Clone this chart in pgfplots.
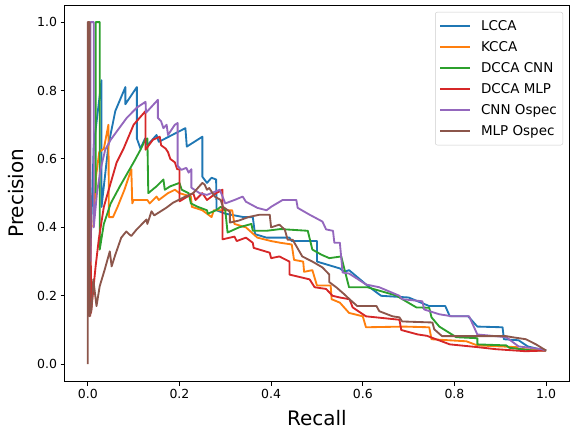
\documentclass[border=0pt]{standalone}
\usepackage{fontspec}
\setmainfont{DejaVu Sans}
\usepackage{pgfplots}
\pgfplotsset{compat=1.18}
\definecolor{c0}{HTML}{1F77B4}
\definecolor{c1}{HTML}{FF7F0E}
\definecolor{c2}{HTML}{2CA02C}
\definecolor{c3}{HTML}{D62728}
\definecolor{c4}{HTML}{9467BD}
\definecolor{c5}{HTML}{8C564B}
\begin{document}
\begin{tikzpicture}
\begin{axis}[
    name=ax,
    scale only axis,
    width=505pt, height=377pt,
    xmin=-0.05, xmax=1.05, ymin=-0.05, ymax=1.05,
    xtick={0,0.2,0.4,0.6,0.8,1.0},
    ytick={0,0.2,0.4,0.6,0.8,1.0},
    tick align=outside, tick pos=left,
    major tick length=4.3pt,
    every tick/.style={black, line width=0.9pt},
    axis line style={line width=0.9pt},
    /pgf/number format/assume math mode=true,
    xticklabel style={/pgf/number format/.cd, fixed, fixed zerofill, precision=1},
    yticklabel style={/pgf/number format/.cd, fixed, fixed zerofill, precision=1},
    tick label style={font=\fontsize{12.5}{15}\selectfont},
    xlabel={Recall}, ylabel={Precision},
    label style={font=\fontsize{20}{24}\selectfont},
    xlabel style={at={(axis description cs:0.5,-0.098)}, anchor=center},
    ylabel style={at={(axis description cs:-0.097,0.5)}, anchor=center, rotate=0},
    legend style={at={(1,1)}, anchor=north east, xshift=-6pt, yshift=-7pt,
        font=\fontsize{13.5}{16}\selectfont, draw=black!20, rounded corners=2pt,
        inner xsep=4pt, inner ysep=6pt, row sep=5.6pt, cells={anchor=west},
        /tikz/every odd column/.append style={column sep=8pt}},
    legend image code/.code={\draw[#1, line width=1.85pt] (0pt,0pt) -- (30pt,0pt);},
    every axis plot/.append style={line width=1.85pt, line join=round},
]
\addplot[c0] coordinates {
(0.005,0.30) (0.013,0.64) (0.030,0.83) (0.030,0.46) (0.045,0.64) (0.060,0.74) (0.082,0.81) (0.082,0.76)
(0.107,0.81) (0.107,0.66) (0.115,0.63) (0.125,0.66) (0.13,0.64) (0.15,0.67) (0.155,0.65) (0.213,0.69)
(0.216,0.636) (0.25,0.665) (0.25,0.548) (0.26,0.53) (0.27,0.545) (0.28,0.54) (0.281,0.45) (0.30,0.44)
(0.34,0.43) (0.36,0.43) (0.365,0.38) (0.39,0.37) (0.44,0.37) (0.445,0.36) (0.50,0.36) (0.50,0.30)
(0.55,0.28) (0.56,0.27) (0.57,0.275) (0.61,0.23) (0.64,0.20) (0.70,0.195) (0.745,0.17) (0.78,0.17)
(0.79,0.14) (0.83,0.14) (0.85,0.11) (0.905,0.108) (0.908,0.073) (0.94,0.07) (0.96,0.052) (0.985,0.044) (1.0,0.04)
};
\addplot[c1] coordinates {
(0.012,0.40) (0.018,0.55) (0.025,0.62) (0.035,0.63) (0.045,0.70) (0.046,0.43) (0.055,0.43) (0.065,0.46)
(0.08,0.51) (0.095,0.57) (0.097,0.47) (0.10,0.48) (0.13,0.48) (0.135,0.47) (0.15,0.49) (0.155,0.48)
(0.175,0.50) (0.19,0.51) (0.20,0.50) (0.225,0.49) (0.227,0.46) (0.25,0.45) (0.27,0.43) (0.275,0.45)
(0.315,0.45) (0.32,0.41) (0.345,0.40) (0.37,0.37) (0.40,0.36) (0.42,0.355) (0.445,0.35) (0.45,0.305)
(0.47,0.30) (0.472,0.27) (0.49,0.275) (0.50,0.23) (0.53,0.23) (0.532,0.19) (0.55,0.18) (0.57,0.15)
(0.60,0.14) (0.607,0.108) (0.69,0.11) (0.745,0.108) (0.75,0.073) (0.826,0.067) (0.85,0.055) (0.935,0.05)
(0.94,0.045) (1.0,0.04)
};
\addplot[c2] coordinates {
(0.017,0.50) (0.017,1.0) (0.026,1.0) (0.026,0.335) (0.035,0.41) (0.05,0.47) (0.07,0.52) (0.10,0.59)
(0.115,0.627) (0.125,0.655) (0.13,0.66) (0.132,0.50) (0.15,0.52) (0.165,0.54) (0.168,0.51) (0.18,0.52)
(0.19,0.525) (0.20,0.53) (0.205,0.51) (0.22,0.50) (0.225,0.47) (0.24,0.46) (0.26,0.45) (0.262,0.44)
(0.28,0.45) (0.29,0.46) (0.30,0.45) (0.305,0.385) (0.33,0.40) (0.357,0.41) (0.36,0.39) (0.39,0.39)
(0.42,0.395) (0.48,0.39) (0.49,0.335) (0.51,0.32) (0.527,0.31) (0.553,0.315) (0.57,0.225) (0.61,0.225)
(0.675,0.2) (0.68,0.195) (0.717,0.166) (0.745,0.165) (0.75,0.137) (0.767,0.11) (0.804,0.079) (0.85,0.076)
(0.85,0.058) (0.913,0.055) (0.92,0.048) (0.97,0.04) (1.0,0.04)
};
\addplot[c3] coordinates {
(0.005,0.14) (0.006,0.50) (0.007,0.15) (0.017,0.285) (0.024,0.365) (0.035,0.46) (0.05,0.53) (0.063,0.59)
(0.078,0.63) (0.10,0.70) (0.126,0.74) (0.126,0.627) (0.142,0.656) (0.157,0.665) (0.16,0.64) (0.17,0.63)
(0.175,0.62) (0.18,0.60) (0.19,0.59) (0.195,0.57) (0.20,0.57) (0.20,0.476) (0.23,0.50) (0.235,0.48)
(0.25,0.50) (0.26,0.48) (0.28,0.50) (0.294,0.51) (0.294,0.365) (0.32,0.373) (0.325,0.36) (0.345,0.37)
(0.36,0.355) (0.362,0.34) (0.397,0.326) (0.40,0.31) (0.418,0.315) (0.44,0.30) (0.44,0.262) (0.484,0.248)
(0.495,0.225) (0.52,0.22) (0.534,0.2) (0.55,0.195) (0.571,0.19) (0.578,0.166) (0.607,0.14) (0.68,0.13)
(0.684,0.10) (0.72,0.087) (0.74,0.083) (0.79,0.058) (0.85,0.05) (0.89,0.044) (0.955,0.038) (1.0,0.04)
};
\addplot[c4] coordinates {
(0.006,0.30) (0.006,1.0) (0.013,1.0) (0.013,0.40) (0.02,0.50) (0.028,0.57) (0.038,0.627) (0.05,0.656)
(0.063,0.68) (0.085,0.72) (0.107,0.75) (0.126,0.767) (0.127,0.735) (0.153,0.773) (0.153,0.72) (0.16,0.71)
(0.165,0.69) (0.172,0.70) (0.175,0.67) (0.19,0.70) (0.196,0.705) (0.196,0.58) (0.204,0.568) (0.215,0.574)
(0.22,0.56) (0.226,0.57) (0.226,0.516) (0.244,0.50) (0.26,0.495) (0.288,0.51) (0.30,0.47) (0.32,0.48)
(0.338,0.49) (0.345,0.475) (0.37,0.457) (0.39,0.45) (0.40,0.46) (0.425,0.48) (0.455,0.48) (0.458,0.457)
(0.484,0.437) (0.512,0.417) (0.52,0.394) (0.535,0.39) (0.538,0.355) (0.55,0.355) (0.556,0.268) (0.57,0.265)
(0.59,0.248) (0.607,0.233) (0.636,0.225) (0.68,0.2) (0.686,0.19) (0.73,0.184) (0.734,0.16) (0.767,0.146)
(0.795,0.14) (0.832,0.14) (0.85,0.087) (0.89,0.082) (0.913,0.079) (0.94,0.052) (0.99,0.044) (1.0,0.04)
};
\addplot[c5] coordinates {
(0.0,0.0) (0.0,1.0) (0.004,1.0) (0.004,0.14) (0.008,0.16) (0.012,0.248) (0.019,0.17) (0.026,0.228)
(0.037,0.277) (0.048,0.33) (0.052,0.286) (0.06,0.32) (0.073,0.37) (0.084,0.388) (0.09,0.38) (0.095,0.375)
(0.106,0.393) (0.128,0.423) (0.13,0.41) (0.139,0.447) (0.145,0.435) (0.171,0.457) (0.186,0.472) (0.208,0.487)
(0.23,0.50) (0.25,0.53) (0.255,0.525) (0.26,0.51) (0.265,0.515) (0.277,0.49) (0.29,0.48) (0.295,0.46)
(0.31,0.446) (0.31,0.414) (0.33,0.42) (0.35,0.43) (0.375,0.437) (0.397,0.437) (0.40,0.40) (0.418,0.408)
(0.43,0.393) (0.436,0.364) (0.447,0.364) (0.468,0.315) (0.49,0.30) (0.512,0.283) (0.527,0.262) (0.527,0.24)
(0.543,0.224) (0.56,0.204) (0.571,0.19) (0.588,0.17) (0.63,0.17) (0.636,0.155) (0.665,0.14) (0.68,0.137)
(0.686,0.125) (0.752,0.122) (0.756,0.102) (0.773,0.082) (0.847,0.082) (0.913,0.082) (0.926,0.079) (0.956,0.073)
(0.978,0.058) (1.0,0.04)
};
\legend{LCCA, KCCA, DCCA CNN, DCCA MLP, CNN Ospec, MLP Ospec}
\end{axis}
\path ([shift={(-65pt,-48pt)}]ax.south west) rectangle ([shift={(1pt,5pt)}]ax.north east);
\end{tikzpicture}
\end{document}
